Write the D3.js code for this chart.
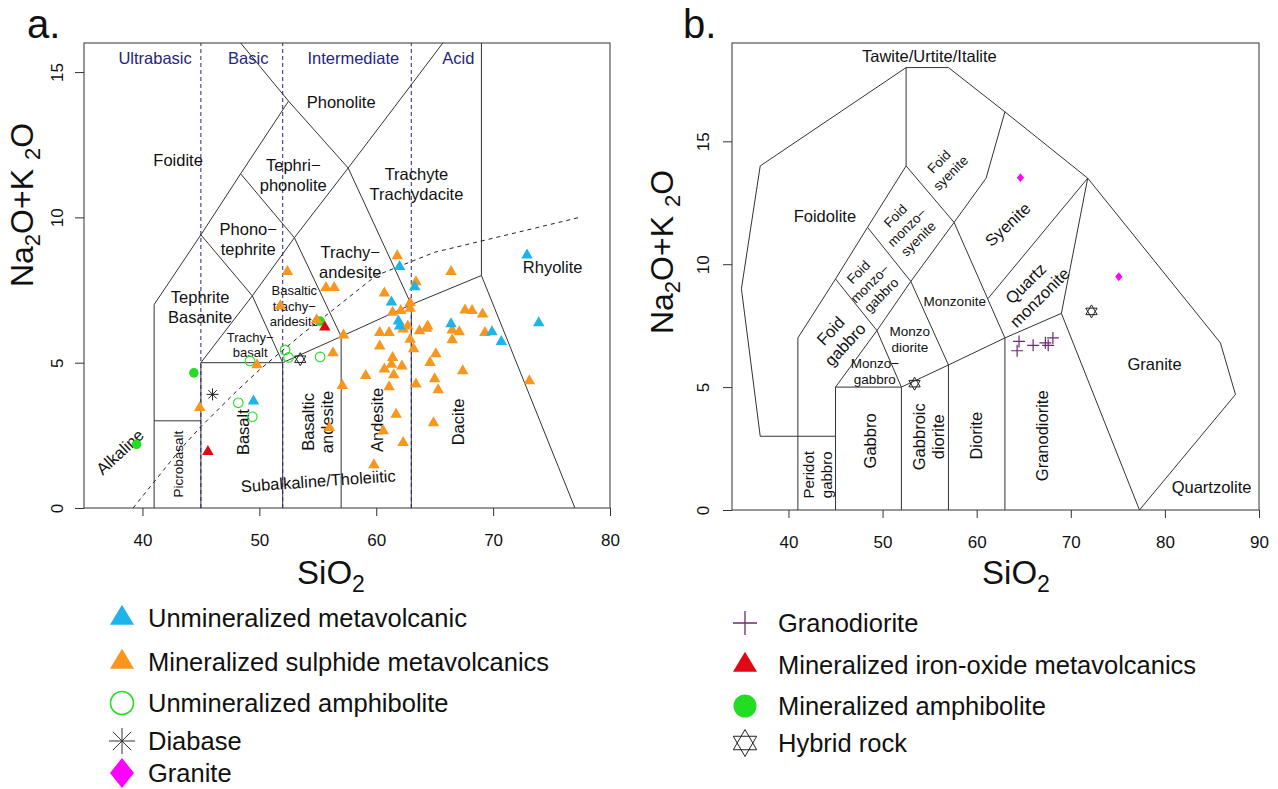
<!DOCTYPE html>
<html>
<head>
<meta charset="utf-8">
<script src="https://cdn.jsdelivr.net/npm/d3@7"></script>
<style>
  body { margin: 0; background: #fff; }
  svg { display: block; }
  text { font-family: "Liberation Sans", Arial, Helvetica, sans-serif; fill: #111; }
</style>
</head>
<body>
<svg id="chart" width="1278" height="789"></svg>
<script>
// ---- Sample compositions: [SiO2 wt%, Na2O+K2O wt%] ----
const unmineralizedMetavolcanic = [
  [72.9, 8.70], [62.0, 8.30], [63.3, 7.61], [61.3, 7.08], [61.9, 6.43], [62.0, 6.26],
  [66.4, 6.33], [69.9, 6.06], [70.7, 5.72], [73.9, 6.37], [49.5, 3.68]
];
const mineralizedSulphideMetavolcanics = [
  [61.8, 8.67], [66.4, 8.13], [63.4, 7.78], [55.7, 7.58], [56.4, 7.58], [60.7, 7.39],
  [62.9, 7.06], [61.4, 6.73], [62.1, 6.79], [62.9, 6.87], [67.6, 6.81], [68.2, 6.79],
  [69.1, 6.67], [54.9, 6.47], [62.7, 6.26], [64.4, 6.26], [64.3, 6.18], [60.3, 6.03],
  [61.1, 6.03], [62.3, 6.15], [63.7, 6.09], [66.5, 6.12], [67.1, 6.06], [69.3, 6.03],
  [57.2, 5.95], [62.9, 5.80], [66.5, 5.78], [60.3, 5.57], [63.2, 5.47], [56.3, 5.34],
  [65.1, 5.30], [61.4, 5.17], [64.6, 5.00], [61.3, 4.94], [62.2, 4.88], [60.7, 4.78],
  [67.4, 4.72], [61.5, 4.58], [59.1, 4.55], [65.0, 4.44], [73.1, 4.37], [57.1, 4.21],
  [61.1, 4.17], [63.4, 4.26], [65.3, 4.06], [61.7, 3.22], [64.9, 2.93], [56.0, 2.76],
  [60.6, 2.65], [62.3, 2.25], [59.8, 1.48], [52.4, 8.13], [51.8, 6.95], [49.8, 4.92],
  [44.9, 3.45]
];
const unmineralizedAmphibolite = [
  [49.2, 5.06], [52.2, 5.44], [52.5, 5.18], [55.2, 5.20], [48.2, 3.62], [49.4, 3.14]
];
const diabase = [[46.0, 3.91]];
const mineralizedIronOxideMetavolcanics = [[55.6, 6.22], [45.6, 1.94]];
const mineralizedAmphibolite = [[44.4, 4.65], [39.5, 2.19], [55.2, 6.43]];
const hybridRockVolcanic = [[53.5, 5.12]];

const granite = [[64.65, 13.52], [75.1, 9.49]];
const granodiorite = [[64.5, 6.86], [64.3, 6.48], [66.0, 6.70], [67.3, 6.80], [67.6, 6.70], [68.1, 7.00]];
const hybridRockPlutonic = [[53.4, 5.14], [72.2, 8.08]];

// ---- Axis ticks ----
const xTicksA = [40, 50, 60, 70, 80];
const yTicksA = [0, 5, 10, 15];
const xTicksB = [40, 50, 60, 70, 80, 90];
const yTicksB = [0, 5, 10, 15];

// ---- TAS (volcanic) field boundaries, Le Bas et al. ----
const volcanicFields = [
  [[41, 0], [41, 7], [45, 9.4], [48.4, 11.5], [52.5, 14], [48.4, 16]],
  [[41, 3], [45, 3]],
  [[45, 0], [45, 5], [52, 5]],
  [[52, 0], [52, 5], [57, 5.9], [63, 7], [69, 8], [77, 0]],
  [[57, 0], [57, 5.9]],
  [[63, 0], [63, 7]],
  [[69, 8], [69, 16]],
  [[45, 5], [49.4, 7.3], [53, 9.3], [57.6, 11.7], [61, 13.5], [65.7, 16]],
  [[45, 9.4], [49.4, 7.3], [52, 5]],
  [[48.4, 11.5], [53, 9.3], [57, 5.9]],
  [[52.5, 14], [57.6, 11.7], [63, 7]]
];
// silica-saturation divisions
const silicaDivisions = [45, 52, 63];
const silicaClasses = [["Ultrabasic", 41.08], ["Basic", 49.05], ["Intermediate", 58.04], ["Acid", 67.03]];
// alkaline / subalkaline divide (Irvine & Baragar)
const alkalineDivide = [
  [39.2, 0], [40, 0.4], [43.2, 2], [45, 2.8], [48, 4], [50, 4.75], [53.7, 6],
  [55, 6.4], [60, 8], [65, 8.8], [77.4, 10]
];

// ---- TAS (plutonic) field boundaries, Middlemost ----
const plutonicFields = [
  [[45, 3], [37, 3], [35, 9], [37, 14], [52.5, 18], [57, 18], [63, 16.2], [71.8, 13.5],
   [85.9, 6.8], [87.5, 4.7], [77.3, 0]],
  [[41, 0], [41, 7], [45, 9.4], [48.4, 11.5], [52.5, 14], [52.5, 18]],
  [[45, 0], [45, 5], [52, 5]],
  [[52, 0], [52, 5], [57, 5.9], [63, 7], [69, 8], [71.8, 13.5]],
  [[69, 8], [77.3, 0]],
  [[57, 0], [57, 5.9]],
  [[63, 0], [63, 7]],
  [[45, 5], [49.4, 7.3], [53, 9.3], [57.6, 11.7], [61, 13.5], [63, 16.2]],
  [[45, 9.4], [49.4, 7.3], [52, 5]],
  [[48.4, 11.5], [53, 9.3], [57, 5.9]],
  [[52.5, 14], [57.6, 11.7], [63, 7]],
  [[61.2, 8.6], [71.8, 13.5]]
];

// ---- Field names: [lines, SiO2, alkalis, size, angle] ----
const volcanicNames = [
  [["Phonolite"], 57.0, 13.97, 16.5, 0],
  [["Foidite"], 43.05, 11.97, 16.5, 0],
  [["Tephri\u2212", "phonolite"], 52.9, 11.44, 16.5, 0],
  [["Phono\u2212", "tephrite"], 49.05, 9.25, 16.5, 0],
  [["Trachyte", "Trachydacite"], 63.44, 11.15, 16.5, 0],
  [["Trachy\u2212", "andesite"], 57.78, 8.45, 16.5, 0],
  [["Rhyolite"], 75.09, 8.29, 16.5, 0],
  [["Tephrite", "Basanite"], 44.94, 6.91, 16.5, 0],
  [["Basaltic", "trachy\u2212", "andesite"], 52.99, 6.95, 13, 0],
  [["Trachy\u2212", "basalt"], 49.22, 5.61, 13, 0],
  [["Basalt"], 48.62, 2.61, 16.5, -90],
  [["Picrobasalt"], 43.05, 1.51, 13.5, -90],
  [["Basaltic", "andesite"], 55.0, 2.96, 16.5, -90],
  [["Andesite"], 60.1, 3.03, 16.5, -90],
  [["Dacite"], 67.03, 2.96, 16.5, -90],
  [["Alkaline"], 38.08, 1.93, 16.5, -43],
  [["Subalkaline/Tholeiitic"], 55.04, 0.93, 16.5, -4]
];
const plutonicNames = [
  [["Tawite/Urtite/Italite"], 54.97, 18.47, 16.5, 0],
  [["Foidolite"], 43.87, 11.94, 16.5, 0],
  [["Foid", "syenite"], 56.61, 13.94, 13.5, -45],
  [["Foid", "monzo\u2212", "syenite"], 52.58, 11.5, 13.5, -45],
  [["Foid", "monzo\u2212", "gabbro"], 48.65, 9.21, 13.5, -45],
  [["Syenite"], 63.3, 11.62, 16.5, -43],
  [["Monzonite"], 57.67, 8.48, 13.5, 0],
  [["Quartz", "monzonite"], 65.95, 8.93, 16.5, -45],
  [["Monzo", "diorite"], 52.9, 6.95, 13.5, 0],
  [["Monzo\u2212", "gabbro"], 49.18, 5.63, 13.5, 0],
  [["Foid", "gabbro"], 45.25, 7.01, 16.5, -47],
  [["Peridot", "gabbro"], 43.08, 1.43, 15, -90],
  [["Gabbro"], 48.65, 2.81, 16.5, -90],
  [["Gabbroic", "diorite"], 54.91, 2.98, 16.5, -90],
  [["Diorite"], 59.9, 3.02, 16.5, -90],
  [["Granodiorite"], 67.01, 3.02, 16.5, -90],
  [["Granite"], 78.9, 5.95, 16.5, 0],
  [["Quartzolite"], 84.96, 0.94, 16.5, 0]
];

// ---- Colours ----
const COL = {
  cyan: "#1db4ea", orange: "#f8961e", green: "#22dd22", red: "#e30613",
  magenta: "#ff00ff", purple: "#6b2b6b", navy: "#25257f", line: "#333"
};

// ---- Marker shapes ----
const shapes = {
  triangle: (w, h) => `M0,${-2 * h / 3}L${w / 2},${h / 3}L${-w / 2},${h / 3}Z`,
  diamond: (hw, hh) => `M0,${-hh}L${hw},0L0,${hh}L${-hw},0Z`,
  cross: a => `M${-a},0H${a}M0,${-a}V${a}`,
  asterisk: a => {
    const d = a * Math.SQRT1_2;
    return `M${-a},0H${a}M0,${-a}V${a}M${-d},${-d}L${d},${d}M${-d},${d}L${d},${-d}`;
  },
  hexagram: r => {
    const pt = deg => [r * Math.cos(deg * Math.PI / 180), r * Math.sin(deg * Math.PI / 180)];
    const tri = angs => "M" + angs.map(a => pt(a).map(v => v.toFixed(2)).join(",")).join("L") + "Z";
    return tri([-90, 30, 150]) + tri([90, 210, 330]);
  }
};

function drawMarker(g, type, px, py, big, color) {
  if (type === "circle" || type === "openCircle") {
    g.append("circle").attr("cx", px).attr("cy", py).attr("r", big ? 11.5 : 4.8)
      .attr("fill", type === "circle" ? color : "none")
      .attr("stroke", color).attr("stroke-width", type === "circle" ? 0 : (big ? 1.6 : 1.1));
    return;
  }
  let d, fill = color, stroke = "none", sw = 0;
  if (type === "triangle") d = big ? shapes.triangle(24, 20) : shapes.triangle(11.5, 10);
  if (type === "diamond") d = big ? shapes.diamond(12, 15) : shapes.diamond(3.6, 4.4);
  if (type === "cross") { d = shapes.cross(big ? 12 : 6); fill = "none"; stroke = color; sw = big ? 1.3 : 1.2; }
  if (type === "asterisk") { d = shapes.asterisk(big ? 13 : 6); fill = "none"; stroke = color; sw = 1; }
  if (type === "hexagram") { d = shapes.hexagram(big ? 13.5 : 6.5); fill = "none"; stroke = color; sw = 1; }
  g.append("path").attr("d", d).attr("transform", `translate(${px},${py})`)
    .attr("fill", fill).attr("stroke", stroke).attr("stroke-width", sw);
}

function fieldLabel(g, x, y, item) {
  const [lines, sx, sy, size, angle] = item;
  const lh = size * 1.2;
  const t = g.append("text")
    .attr("transform", `translate(${x(sx)},${y(sy)}) rotate(${angle})`)
    .attr("text-anchor", "middle").attr("font-size", size);
  lines.forEach((ln, i) => {
    t.append("tspan").attr("x", 0)
      .attr("y", (i - (lines.length - 1) / 2) * lh)
      .attr("dy", "0.35em").text(ln);
  });
}

function drawFrame(g, x, y, xTicks, yTicks, yLabelX) {
  const [x0, x1] = x.range(), [y0, y1] = y.range();
  const ax = g.append("g").attr("transform", `translate(0,${y0})`)
    .call(d3.axisBottom(x).tickValues(xTicks).tickSize(8).tickPadding(18).tickFormat(d3.format("d")));
  ax.select(".domain").remove();
  ax.attr("font-size", 17).attr("font-family", null);
  ax.selectAll("line").attr("stroke", COL.line);
  ax.selectAll("text").attr("fill", "#222");

  const ay = g.append("g").attr("transform", `translate(${x0},0)`)
    .call(d3.axisLeft(y).tickValues(yTicks).tickSize(9).tickFormat(d3.format("d")));
  ay.select(".domain").remove();
  ay.attr("font-size", 17).attr("font-family", null);
  ay.selectAll("line").attr("stroke", COL.line);
  ay.selectAll("text")
    .attr("x", null).attr("dy", "0.35em").attr("fill", "#222")
    .attr("text-anchor", "middle")
    .attr("transform", `translate(${yLabelX},0) rotate(-90)`);

  g.append("rect").attr("x", x0).attr("y", y1).attr("width", x1 - x0).attr("height", y0 - y1)
    .attr("fill", "none").attr("stroke", COL.line).attr("stroke-width", 1);
}

function axisTitles(svg, sx, sy, yx, yy) {
  const t = svg.append("text").attr("x", sx).attr("y", sy).attr("text-anchor", "middle")
    .attr("font-size", 33);
  t.append("tspan").text("SiO");
  t.append("tspan").attr("font-size", 23).attr("dy", 8).text("2");

  const v = svg.append("text").attr("transform", `translate(${yx},${yy}) rotate(-90)`)
    .attr("text-anchor", "middle").attr("font-size", 32);
  v.append("tspan").text("Na");
  v.append("tspan").attr("font-size", 22).attr("dy", 7).text("2");
  v.append("tspan").attr("dy", -7).text("O+K ");
  v.append("tspan").attr("font-size", 22).attr("dy", 7).text("2");
  v.append("tspan").attr("dy", -7).text("O");
}

const svg = d3.select("#chart");
svg.append("rect").attr("width", 1278).attr("height", 789).attr("fill", "#fff");
const line = (x, y) => d3.line().x(d => x(d[0])).y(d => y(d[1]));

// ================= Panel a: volcanic TAS =================
{
  const x = d3.scaleLinear().domain([35, 80]).range([84, 610]);
  const y = d3.scaleLinear().domain([0, 16]).range([508, 43]);
  const g = svg.append("g");

  g.selectAll("path.field").data(volcanicFields).join("path").attr("class", "field")
    .attr("d", line(x, y)).attr("fill", "none").attr("stroke", COL.line).attr("stroke-width", 1);

  g.selectAll("line.silica").data(silicaDivisions).join("line").attr("class", "silica")
    .attr("x1", d => x(d)).attr("x2", d => x(d)).attr("y1", y(0)).attr("y2", y(16))
    .attr("stroke", COL.navy).attr("stroke-width", 1).attr("stroke-dasharray", "4,3");

  g.append("path").datum(alkalineDivide).attr("d", line(x, y)).attr("fill", "none")
    .attr("stroke", "#222").attr("stroke-width", 1).attr("stroke-dasharray", "4,4");

  g.selectAll("text.silica").data(silicaClasses).join("text").attr("class", "silica")
    .attr("x", d => x(d[1])).attr("y", y(15.48)).attr("dy", "0.35em")
    .attr("text-anchor", "middle").attr("font-size", 16.5).style("fill", COL.navy).text(d => d[0]);

  volcanicNames.forEach(item => fieldLabel(g, x, y, item));

  drawFrame(g, x, y, xTicksA, yTicksA, -27);

  const pts = g.append("g");
  unmineralizedAmphibolite.forEach(d => drawMarker(pts, "openCircle", x(d[0]), y(d[1]), false, COL.green));
  mineralizedAmphibolite.forEach(d => drawMarker(pts, "circle", x(d[0]), y(d[1]), false, COL.green));
  mineralizedSulphideMetavolcanics.forEach(d => drawMarker(pts, "triangle", x(d[0]), y(d[1]), false, COL.orange));
  unmineralizedMetavolcanic.forEach(d => drawMarker(pts, "triangle", x(d[0]), y(d[1]), false, COL.cyan));
  mineralizedIronOxideMetavolcanics.forEach(d => drawMarker(pts, "triangle", x(d[0]), y(d[1]), false, COL.red));
  diabase.forEach(d => drawMarker(pts, "asterisk", x(d[0]), y(d[1]), false, "#222"));
  hybridRockVolcanic.forEach(d => drawMarker(pts, "hexagram", x(d[0]), y(d[1]), false, "#222"));

  svg.append("text").attr("x", 27).attr("y", 37.5).attr("font-size", 40).text("a.");
  axisTitles(svg, 331, 584, 33, 205);
}

// ================= Panel b: plutonic TAS =================
{
  const x = d3.scaleLinear().domain([34, 90]).range([732, 1259]);
  const y = d3.scaleLinear().domain([0, 19]).range([510, 43]);
  const g = svg.append("g");

  g.selectAll("path.field").data(plutonicFields).join("path").attr("class", "field")
    .attr("d", line(x, y)).attr("fill", "none").attr("stroke", COL.line).attr("stroke-width", 1);

  plutonicNames.forEach(item => fieldLabel(g, x, y, item));

  drawFrame(g, x, y, xTicksB, yTicksB, -29);

  const pts = g.append("g");
  granite.forEach(d => drawMarker(pts, "diamond", x(d[0]), y(d[1]), false, COL.magenta));
  granodiorite.forEach(d => drawMarker(pts, "cross", x(d[0]), y(d[1]), false, COL.purple));
  hybridRockPlutonic.forEach(d => drawMarker(pts, "hexagram", x(d[0]), y(d[1]), false, "#222"));

  svg.append("text").attr("x", 683).attr("y", 37.5).attr("font-size", 40).text("b.");
  axisTitles(svg, 1016, 584, 673, 252);
}

// ================= Legends =================
const legendA = [
  ["triangle", COL.cyan, "Unmineralized metavolcanic", 618],
  ["triangle", COL.orange, "Mineralized sulphide metavolcanics", 662],
  ["openCircle", COL.green, "Unmineralized amphibolite", 703],
  ["asterisk", "#333", "Diabase", 741],
  ["diamond", COL.magenta, "Granite", 773]
];
const legendB = [
  ["cross", COL.purple, "Granodiorite", 623],
  ["triangle", COL.red, "Mineralized iron-oxide metavolcanics", 665],
  ["circle", COL.green, "Mineralized amphibolite", 706],
  ["hexagram", "#222", "Hybrid rock", 743]
];
function drawLegend(items, mx, tx) {
  const g = svg.append("g");
  items.forEach(([type, color, label, ly]) => {
    drawMarker(g, type, mx, ly, true, color);
    g.append("text").attr("x", tx).attr("y", ly).attr("dy", "0.35em")
      .attr("font-size", 25.5).text(label);
  });
}
drawLegend(legendA, 122, 148);
drawLegend(legendB, 745, 778);
</script>
</body>
</html>
